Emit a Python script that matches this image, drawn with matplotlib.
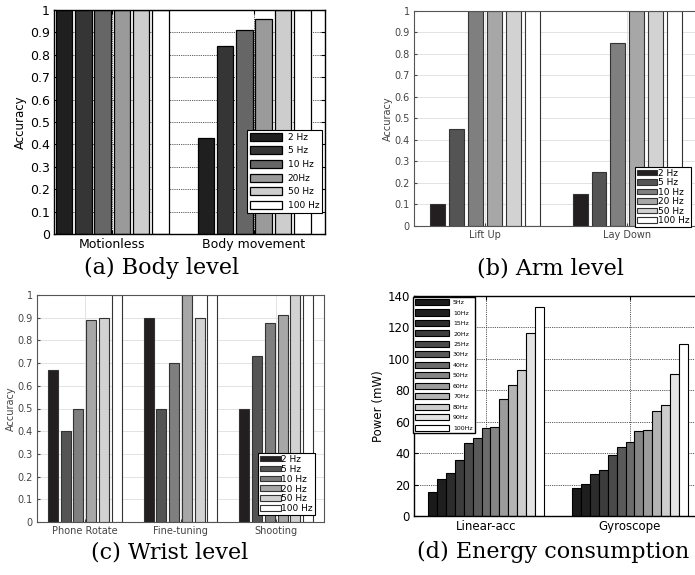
import numpy as np
import matplotlib
matplotlib.use('Agg')
import matplotlib.pyplot as plt

# (a) body level
body_groups = ['Motionless', 'Body movement']
body_labels = ['2 Hz', '5 Hz', '10 Hz', '20Hz', '50 Hz', '100 Hz']
body_vals = [[1.0, 0.43], [1.0, 0.84], [1.0, 0.91], [1.0, 0.96], [1.0, 1.0], [1.0, 1.0]]

# (b) arm level
arm_groups = ['Lift Up', 'Lay Down']
arm_labels = ['2 Hz', '5 Hz', '10 Hz', '20 Hz', '50 Hz', '100 Hz']
arm_vals = [[0.10, 0.15], [0.45, 0.25], [1.0, 0.85], [1.0, 1.0], [1.0, 1.0], [1.0, 1.0]]

# (c) wrist level
wrist_groups = ['Phone Rotate', 'Fine-tuning', 'Shooting']
wrist_labels = ['2 Hz', '5 Hz', '10 Hz', '20 Hz', '50 Hz', '100 Hz']
wrist_vals = [[0.67, 0.90, 0.50], [0.40, 0.50, 0.73], [0.50, 0.70, 0.875],
              [0.89, 1.0, 0.91], [0.90, 0.90, 1.0], [1.0, 1.0, 1.0]]

# (d) energy
energy_groups = ['Linear-acc', 'Gyroscope']
energy_labels = ['5Hz', '10Hz', '15Hz', '20Hz', '25Hz', '30Hz', '40Hz', '50Hz',
                 '60Hz', '70Hz', '80Hz', '90Hz', '100Hz']
linear_acc = [15.0, 23.8, 27.1, 35.6, 46.6, 49.6, 55.8, 56.4, 74.2, 83.4, 93.0, 116.5, 132.8]
gyroscope = [17.8, 20.6, 26.7, 29.2, 38.8, 44.1, 47.2, 54.0, 54.7, 66.5, 70.6, 90.0, 109.0]

gray6_a = ['#1f1f1f', '#353535', '#666666', '#9a9a9a', '#cdcdcd', '#ffffff']
gray6_b = ['#231f20', '#545454', '#7f7f7f', '#a7a7a7', '#d2d2d2', '#ffffff']
gray13 = ['#1a1a1a', '#1e1e1e', '#2c2c2c', '#3c3c3c', '#4a4a4a', '#5a5a5a', '#6c6c6c',
          '#858585', '#9c9c9c', '#b4b4b4', '#cdcdcd', '#e4e4e4', '#ffffff']

acc_ticks = ['0', '0.1', '0.2', '0.3', '0.4', '0.5', '0.6', '0.7', '0.8', '0.9', '1']

W, H = 695, 575
fig = plt.figure(figsize=(W / 100, H / 100), dpi=100)


def box(l, r, t, b):
    return [l / W, 1 - b / H, (r - l) / W, (b - t) / H]


def grouped(ax, vals, colors, labels, pitch, width, edge, lw):
    n = len(vals)
    ng = len(vals[0])
    x = np.arange(1, ng + 1)
    for i in range(n):
        off = (i - (n - 1) / 2) * pitch
        ax.bar(x + off, vals[i], width, color=colors[i], edgecolor=edge,
               linewidth=lw, label=labels[i], zorder=2)
    return x


def leg(ax, x, y, fs, hl, hh, ls, tp, bp=0.3, lw=0.8):
    lg = ax.legend(loc='upper left', bbox_to_anchor=(x / W, 1 - y / H),
                   bbox_transform=fig.transFigure, fontsize=fs, handlelength=hl,
                   handleheight=hh, labelspacing=ls, handletextpad=tp,
                   borderpad=bp, borderaxespad=0, fancybox=False, framealpha=1)
    lg.get_frame().set_edgecolor('black')
    lg.get_frame().set_linewidth(lw)
    return lg


dotted = dict(color='#222222', linestyle=(0, (1, 1.2)), linewidth=0.6)

# ---- (a)
ax = fig.add_axes(box(54, 325, 10, 234))
x = grouped(ax, body_vals, gray6_a, body_labels, 0.136, 0.117, 'black', 0.9)
ax.set_xlim(0.59, 2.5)
ax.set_ylim(0, 1)
ax.set_yticks(np.arange(0, 1.01, 0.1))
ax.set_yticklabels(acc_ticks)
ax.set_xticks(x)
ax.set_xticklabels(body_groups)
ax.tick_params(direction='in', length=3, labelsize=9, pad=3, top=True, right=True)
ax.set_ylabel('Accuracy', fontsize=8.5, labelpad=2)
ax.grid(True, **dotted)
ax.set_axisbelow(True)
for s in ax.spines.values():
    s.set_linewidth(1.0)
leg(ax, 247, 130, 6.5, 3.6, 1.0, 0.5, 0.6)

# ---- (b)
ax = fig.add_axes(box(414, 698.5, 10.7, 226))
x = grouped(ax, arm_vals, gray6_b, arm_labels, 0.133, 0.105, '#333333', 0.8)
ax.set_xlim(0.5, 2.5)
ax.set_ylim(0, 1)
ax.set_yticks(np.arange(0, 1.01, 0.1))
ax.set_yticklabels(acc_ticks)
ax.set_xticks(x)
ax.set_xticklabels(arm_groups)
ax.tick_params(direction='in', length=2, labelsize=7, pad=3, colors='#444444')
ax.set_ylabel('Accuracy', fontsize=7, labelpad=1, color='#444444')
ax.grid(True, color='#e3e3e3', linewidth=0.7)
ax.set_axisbelow(True)
for s in ax.spines.values():
    s.set_color('#555555')
    s.set_linewidth(0.8)
leg(ax, 635, 167, 6.5, 2.2, 0.6, 0.05, 0.1, bp=0.2)

# ---- (c)
ax = fig.add_axes(box(37, 324, 295, 522))
x = grouped(ax, wrist_vals, gray6_b, wrist_labels, 0.133, 0.105, '#333333', 0.8)
ax.set_xlim(0.5, 3.5)
ax.set_ylim(0, 1)
ax.set_yticks(np.arange(0, 1.01, 0.1))
ax.set_yticklabels(acc_ticks)
ax.set_xticks(x)
ax.set_xticklabels(wrist_groups)
ax.tick_params(direction='in', length=2, labelsize=7, pad=3, colors='#444444')
ax.set_ylabel('Accuracy', fontsize=7, labelpad=1, color='#444444')
ax.grid(True, color='#e3e3e3', linewidth=0.7)
ax.set_axisbelow(True)
for s in ax.spines.values():
    s.set_color('#555555')
    s.set_linewidth(0.8)
leg(ax, 258, 453, 6.5, 2.3, 0.6, 0.1, 0.1, bp=0.2)

# ---- (d)
ax = fig.add_axes(box(414, 702, 295.7, 516))
p = 0.8 / 13
x = grouped(ax, [[linear_acc[i], gyroscope[i]] for i in range(13)], gray13,
            energy_labels, p, p, 'black', 0.8)
ax.set_xlim(0.5, 2.5)
ax.set_ylim(0, 140)
ax.set_yticks(np.arange(0, 141, 20))
ax.set_xticks(x)
ax.set_xticklabels(energy_groups)
ax.tick_params(direction='in', length=3, labelsize=8.5, pad=3, top=True, right=True)
ax.set_ylabel('Power (mW)', fontsize=8.5, labelpad=2)
ax.grid(True, **dotted)
ax.set_axisbelow(True)
for s in ax.spines.values():
    s.set_linewidth(1.0)
leg(ax, 413, 297, 4.5, 5.5, 1.15, 0.68, 0.6, lw=1.0)

# captions
cap = dict(fontsize=16, family='DejaVu Serif', ha='center', va='center')
fig.text(162 / W, 1 - 268 / H, '(a) Body level', **cap)
fig.text(550 / W, 1 - 268 / H, '(b) Arm level', **cap)
fig.text(170 / W, 1 - 553 / H, '(c) Wrist level', **cap)
fig.text(553 / W, 1 - 552 / H, '(d) Energy consumption', **cap)

fig.savefig('out.png', dpi=100)
